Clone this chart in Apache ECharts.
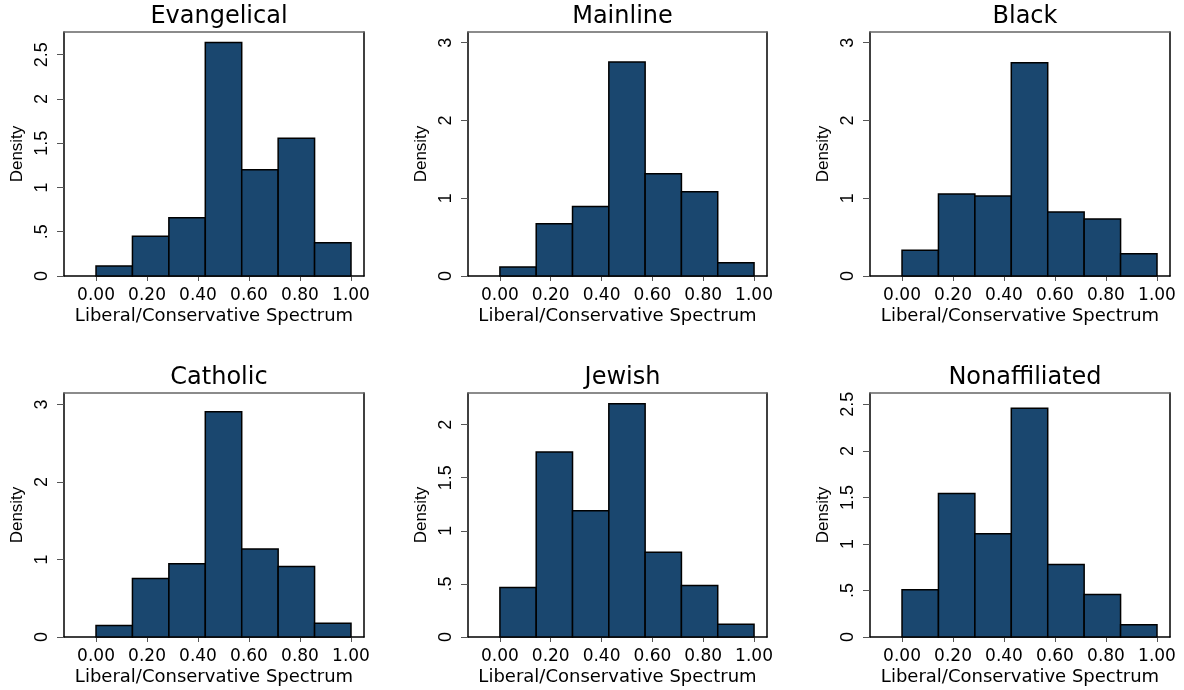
<!DOCTYPE html>
<html>
<head>
<meta charset="utf-8">
<script src="https://cdn.jsdelivr.net/npm/echarts@6/dist/echarts.min.js"></script>
<style>
html,body{margin:0;padding:0;background:#fff;}
#chart{width:1184px;height:690px;}
</style>
</head>
<body>
<div id="chart"></div>
<script>
// ---- data ----
const panelTitles = ['Evangelical', 'Mainline', 'Black', 'Catholic', 'Jewish', 'Nonaffiliated'];
const binStarts = [0, 0.142857, 0.285714, 0.428571, 0.571429, 0.714286, 0.857143];
const binWidth = 0.142857;
const evangelical   = [0.113, 0.448, 0.659, 2.636, 1.201, 1.555, 0.376];
const mainline      = [0.116, 0.673, 0.892, 2.752, 1.316, 1.084, 0.171];
const black         = [0.330, 1.054, 1.029, 2.743, 0.823, 0.733, 0.287];
const catholic      = [0.150, 0.756, 0.945, 2.909, 1.135, 0.911, 0.176];
const jewish        = [0.467, 1.743, 1.188, 2.197, 0.799, 0.486, 0.119];
const nonaffiliated = [0.508, 1.541, 1.109, 2.457, 0.780, 0.458, 0.132];
const xTicks = [0, 0.2, 0.4, 0.6, 0.8, 1.0];
const yTicksEvangelical = [0, 0.5, 1, 1.5, 2, 2.5];
const yTicksMainline = [0, 1, 2, 3];
const yTicksBlack = [0, 1, 2, 3];
const yTicksCatholic = [0, 1, 2, 3];
const yTicksJewish = [0, 0.5, 1, 1.5, 2];
const yTicksNonaffiliated = [0, 0.5, 1, 1.5, 2, 2.5];
const yMaxes = [2.756, 3.137, 3.137, 3.15, 2.298, 2.622];
const xMin = -0.1256, xMax = 1.051;
const xAxisTitle = 'Liberal/Conservative Spectrum';
const yAxisTitle = 'Density';

const panelValues = [evangelical, mainline, black, catholic, jewish, nonaffiliated];
const panelYTicks = [yTicksEvangelical, yTicksMainline, yTicksBlack, yTicksCatholic, yTicksJewish, yTicksNonaffiliated];

// ---- layout ----
const colLefts = [64, 468, 870];
const colWidths = [300, 299, 300];
const rowTops = [32, 393];
const plotH = 244;
const barColor = '#1a476f';

const grids = [], xAxes = [], yAxes = [], series = [], titles = [];

function yFmt(v) {
  let s = String(v);
  if (s.startsWith('0.')) s = s.slice(1);
  return s;
}

for (let p = 0; p < 6; p++) {
  const col = p % 3, row = Math.floor(p / 3);
  grids.push({ left: colLefts[col], top: rowTops[row], width: colWidths[col], height: plotH, containLabel: false });
  titles.push({
    text: panelTitles[p],
    left: colLefts[col] + colWidths[col] / 2,
    top: rowTops[row] - 32,
    textAlign: 'center',
    textStyle: { fontFamily: 'DejaVu Sans', fontSize: 24, fontWeight: 'normal', color: '#000' }
  });
  // bottom x axis
  xAxes.push({
    type: 'value', gridIndex: p, min: xMin, max: xMax, position: 'bottom',
    name: xAxisTitle, nameLocation: 'middle', nameGap: 31,
    nameTextStyle: { fontFamily: 'DejaVu Sans', fontSize: 18, color: '#000' },
    axisLine: { show: true, onZero: false, lineStyle: { color: '#000', width: 1.5 } },
    axisTick: { show: true, length: 5, lineStyle: { color: '#555', width: 1 }, customValues: xTicks },
    axisLabel: { show: true, margin: 11, fontFamily: 'DejaVu Sans', fontSize: 17, color: '#000',
      customValues: xTicks, formatter: v => v.toFixed(2) },
    splitLine: { show: false }
  });
  // top frame
  xAxes.push({
    type: 'value', gridIndex: p, min: xMin, max: xMax, position: 'top',
    axisLine: { show: true, onZero: false, lineStyle: { color: '#666', width: 1.5 } },
    axisTick: { show: false }, axisLabel: { show: false }, splitLine: { show: false }
  });
  // left y axis
  yAxes.push({
    type: 'value', gridIndex: p, min: 0, max: yMaxes[p], position: 'left',
    name: yAxisTitle, nameLocation: 'middle', nameGap: 38, nameRotate: 90,
    nameTextStyle: { fontFamily: 'Liberation Sans', fontSize: 17, color: '#000' },
    axisLine: { show: true, onZero: false, lineStyle: { color: '#000', width: 1.5 } },
    axisTick: { show: true, length: 7, lineStyle: { color: '#555', width: 1 }, customValues: panelYTicks[p] },
    axisLabel: { show: true, rotate: 90, margin: 13, fontFamily: 'Liberation Sans', fontSize: 18, color: '#000',
      customValues: panelYTicks[p], formatter: yFmt },
    splitLine: { show: false }
  });
  // right frame
  yAxes.push({
    type: 'value', gridIndex: p, min: 0, max: yMaxes[p], position: 'right',
    axisLine: { show: true, onZero: false, lineStyle: { color: '#000', width: 1.5 } },
    axisTick: { show: false }, axisLabel: { show: false }, splitLine: { show: false }
  });

  const data = panelValues[p].map((v, i) => [binStarts[i], binStarts[i] + binWidth, v]);
  series.push({
    type: 'custom',
    xAxisIndex: p * 2,
    yAxisIndex: p * 2,
    data: data,
    encode: { x: [0, 1], y: 2 },
    renderItem: function (params, api) {
      const p0 = api.coord([api.value(0), 0]);
      const p1 = api.coord([api.value(1), api.value(2)]);
      return {
        type: 'rect',
        shape: { x: p0[0], y: p1[1], width: p1[0] - p0[0], height: p0[1] - p1[1] },
        style: { fill: barColor, stroke: '#000', lineWidth: 1.5 }
      };
    }
  });
}

const chart = echarts.init(document.getElementById('chart'), null, { renderer: 'canvas' });
chart.setOption({
  animation: false,
  backgroundColor: '#fff',
  title: titles,
  grid: grids,
  xAxis: xAxes,
  yAxis: yAxes,
  series: series
});
</script>
</body>
</html>
